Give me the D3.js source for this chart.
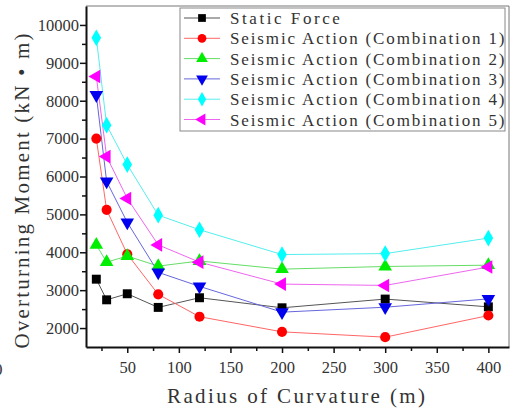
<!DOCTYPE html>
<html>
<head>
<meta charset="utf-8">
<script src="https://cdn.jsdelivr.net/npm/d3@7"></script>
<style>
  body { margin: 0; background: #fff; }
  text { font-family: "Liberation Serif", serif; fill: #333; font-weight: normal; }
</style>
</head>
<body>
<svg width="513" height="410"></svg>
<script>
var radius = [20, 30, 50, 80, 120, 200, 300, 400];
var staticForce = [3290, 2745, 2905, 2545, 2800, 2535, 2765, 2560];
var combo1 = [7000, 5120, 3950, 2890, 2300, 1900, 1760, 2330];
var combo2 = [4195, 3740, 3900, 3635, 3770, 3555, 3625, 3660];
var combo3 = [8150, 5870, 4790, 3470, 3100, 2420, 2550, 2770];
var combo4 = [9660, 7355, 6315, 4980, 4595, 3940, 3965, 4375];
var combo5 = [8640, 6525, 5420, 4195, 3740, 3160, 3125, 3610];
var seriesNames = ['Static Force', 'Seismic Action (Combination 1)', 'Seismic Action (Combination 2)',
  'Seismic Action (Combination 3)', 'Seismic Action (Combination 4)', 'Seismic Action (Combination 5)'];
var xTicks = [50, 100, 150, 200, 250, 300, 350, 400];
var yTicks = [2000, 3000, 4000, 5000, 6000, 7000, 8000, 9000, 10000];

var svg = d3.select('svg');
var x = d3.scaleLinear().domain([10, 420]).range([86, 509]);
var y = d3.scaleLinear().domain([1500, 10500]).range([347, 6]);

var series = [
  {name: seriesNames[0], values: staticForce, color: '#000000', line: '#555', symbol: d3.symbolSquare, rot: 0},
  {name: seriesNames[1], values: combo1, color: '#ff0000', line: '#f66', symbol: d3.symbolCircle, rot: 0},
  {name: seriesNames[2], values: combo2, color: '#00ee00', line: '#6d6', symbol: d3.symbolTriangle, rot: 0},
  {name: seriesNames[3], values: combo3, color: '#0000ee', line: '#66d', symbol: d3.symbolTriangle, rot: 180},
  {name: seriesNames[4], values: combo4, color: '#00ffff', line: '#5ee', symbol: d3.symbolDiamond, rot: 0},
  {name: seriesNames[5], values: combo5, color: '#ff00ff', line: '#e6e', symbol: d3.symbolTriangle, rot: -90}
];

// frame
svg.append('line').attr('x1', 86).attr('x2', 509).attr('y1', 6).attr('y2', 6).attr('stroke', '#777');
svg.append('line').attr('x1', 509).attr('x2', 509).attr('y1', 6).attr('y2', 347).attr('stroke', '#777');

// axes
var xAxis = svg.append('g').attr('transform', 'translate(0,347)')
  .call(d3.axisBottom(x).tickValues(xTicks).tickSize(6).tickSizeOuter(0).tickFormat(d3.format('d')));
svg.append('g').attr('transform', 'translate(0,347)')
  .call(d3.axisBottom(x).tickValues(d3.range(25, 420, 50)).tickSize(4).tickFormat('').tickSizeOuter(0))
  .select('.domain').remove();
var yAxis = svg.append('g').attr('transform', 'translate(86,0)')
  .call(d3.axisLeft(y).tickValues(yTicks).tickSize(6).tickSizeOuter(0).tickFormat(d3.format('d')));
svg.append('g').attr('transform', 'translate(86,0)')
  .call(d3.axisLeft(y).tickValues(d3.range(2500, 10500, 1000)).tickSize(4).tickFormat('').tickSizeOuter(0))
  .select('.domain').remove();
svg.selectAll('.domain').attr('stroke', '#111').attr('stroke-width', 2);
svg.selectAll('.tick line').attr('stroke', '#111').attr('stroke-width', 1.5);
svg.selectAll('.tick text').attr('font-size', 16.5).attr('font-family', '"Liberation Serif", serif').attr('fill', '#333');
xAxis.selectAll('text').attr('dy', '1.05em');
yAxis.selectAll('text').attr('x', -7);

// lines and markers
var line = d3.line().x(function(d) { return x(d[0]); }).y(function(d) { return y(d[1]); });
series.forEach(function(s) {
  var pts = radius.map(function(r, i) { return [r, s.values[i]]; });
  svg.append('path').datum(pts).attr('d', line)
    .attr('fill', 'none').attr('stroke', s.line).attr('stroke-width', 1);
});
series.forEach(function(s) {
  var pts = radius.map(function(r, i) { return [r, s.values[i]]; });
  svg.selectAll(null).data(pts).enter().append('path')
    .attr('d', d3.symbol().type(s.symbol).size(80))
    .attr('transform', function(d) { return 'translate(' + x(d[0]) + ',' + y(d[1]) + ') rotate(' + s.rot + ')'; })
    .attr('fill', s.color);
});

// legend
var lg = svg.append('g');
lg.append('rect').attr('x', 180).attr('y', 8).attr('width', 325).attr('height', 123)
  .attr('fill', '#fff').attr('stroke', '#888').attr('stroke-width', 1);
series.forEach(function(s, i) {
  var ly = 18 + i * 20.3;
  lg.append('line').attr('x1', 184).attr('x2', 220).attr('y1', ly).attr('y2', ly)
    .attr('stroke', s.line).attr('stroke-width', 1);
  lg.append('path').attr('d', d3.symbol().type(s.symbol).size(60))
    .attr('transform', 'translate(202,' + ly + ') rotate(' + s.rot + ')').attr('fill', s.color);
  lg.append('text').attr('x', 230).attr('y', ly + 6).attr('font-size', 17)
    .attr('textLength', s.name.length * 9.15).attr('lengthAdjust', 'spacing')
    .text(s.name);
});

// titles
svg.append('text').attr('x', 296).attr('y', 403).attr('text-anchor', 'middle')
  .attr('font-size', 21).attr('textLength', 258).attr('lengthAdjust', 'spacing')
  .text('Radius of Curvature (m)');
svg.append('text').attr('transform', 'translate(29,191) rotate(-90)').attr('text-anchor', 'middle')
  .attr('font-size', 21).attr('textLength', 315).attr('lengthAdjust', 'spacing')
  .text('Overturning Moment (kN • m)');
svg.append('text').attr('x', -6).attr('y', 375).attr('font-size', 17).text('0');
</script>
</body>
</html>
